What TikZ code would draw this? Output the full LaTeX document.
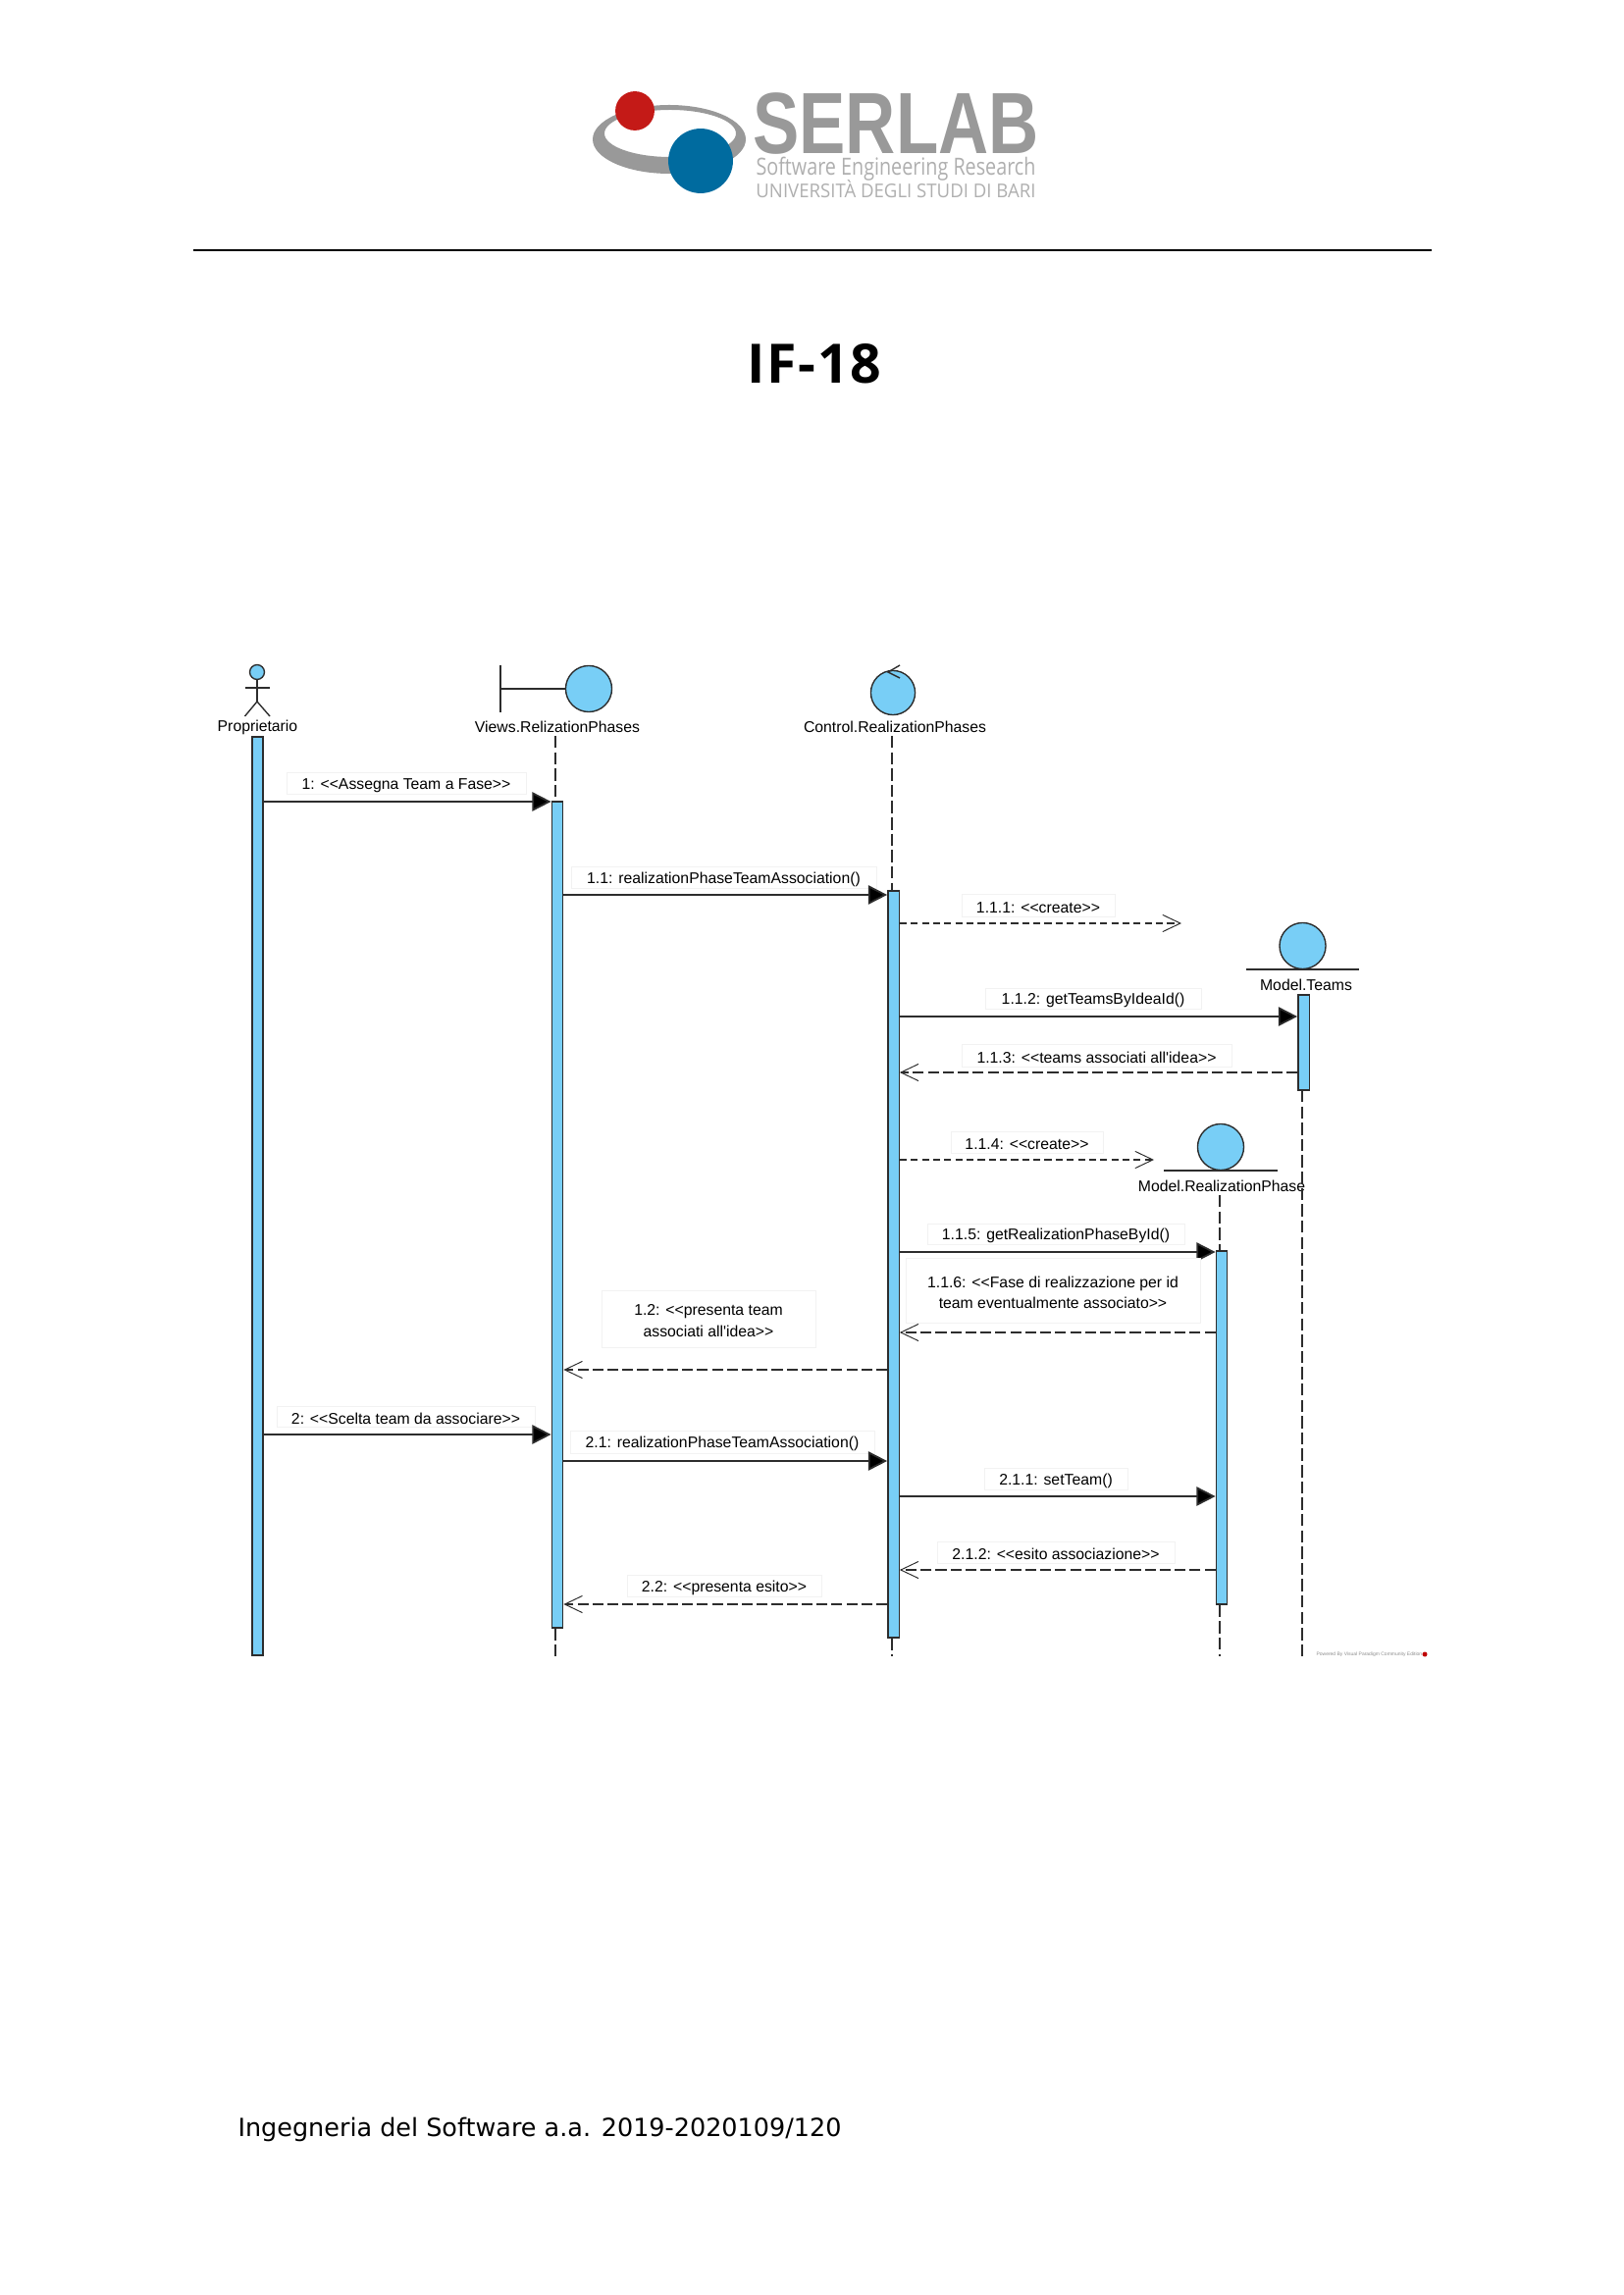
\documentclass[tikz,border=0pt]{standalone}
\usepackage{fontspec}
\usepackage{tikz}
\usetikzlibrary{arrows.meta}
\usetikzlibrary{fit}
\setmainfont{DejaVu Sans}
\newfontfamily\umlfont{Liberation Sans}
\newfontfamily\logofont{Open Sans}
\definecolor{barblue}{RGB}{120,206,246}
\definecolor{linedark}{RGB}{45,45,45}
\definecolor{logogray}{RGB}{153,153,153}
\definecolor{logothin}{RGB}{175,175,175}
\definecolor{logored}{RGB}{196,26,23}
\definecolor{logoblue}{RGB}{0,107,159}
\tikzset{
  activebar/.style={draw=linedark,fill=barblue,line width=0.5pt,inner sep=0pt,minimum width=4.1pt},
  objcircle/.style={circle,draw=linedark,fill=barblue,line width=0.5pt,inner sep=0pt,minimum size=17pt},
  lifelabel/.style={font=\umlfont\fontsize{5.7}{7}\selectfont,inner sep=0pt},
  msgbox/.style={draw=black!5,fill=white,line width=0.3pt,inner sep=0pt},
  msgtext/.style={align=center,inner sep=0pt,yshift=-0.8pt,font=\umlfont\fontsize{5.7}{7.8}\selectfont},
  lifeline/.style={draw=linedark,line width=0.6pt,dash pattern=on 4.5pt off 1.5pt},
  callmsg/.style={draw=linedark,line width=0.65pt,-{Triangle[length=7pt,width=7pt,fill=black]}},
  returnmsg/.style={draw=linedark,line width=0.55pt,dash pattern=on 4pt off 1.5pt,
    -{Straight Barb[length=6.5pt,width=6.2pt,line width=0.35pt]}},
  createmsg/.style={draw=linedark,line width=0.55pt,dash pattern=on 2.6pt off 1.5pt,
    -{Straight Barb[length=6.5pt,width=6.2pt,line width=0.35pt]}},
  stickline/.style={draw=linedark,line width=0.5pt},
}
\begin{document}
\begin{tikzpicture}[x=0.0127cm,y=-0.0127cm]
  \useasboundingbox (0,0) rectangle (1654,2339);
  % header
  \fill[logogray,even odd rule] (682,142) ellipse [x radius=78,y radius=35] (683,136) ellipse [x radius=67,y radius=24];
  \node[circle,fill=logored,inner sep=0pt,minimum size=14.4pt] (logoRed) at (647,113) {};
  \node[circle,fill=logoblue,inner sep=0pt,minimum size=23.8pt] (logoBlue) at (714,164) {};
  \node[text=logogray,inner sep=0pt] (logoName) at (913,126) {\scalebox{.8}[1]{\fontsize{32}{32}\selectfont\umlfont\bfseries SERLAB}};
  \node[text=logothin,inner sep=0pt] (logoLineA) at (913,172) {\scalebox{.82}[1]{\fontsize{8.7}{10}\selectfont\logofont Software Engineering Research}};
  \node[text=logothin,inner sep=0pt] (logoLineB) at (913,193) {\scalebox{.96}[1]{\fontsize{7}{10}\selectfont\logofont UNIVERSITÀ DEGLI STUDI DI BARI}};
  \coordinate (ruleL) at (197,255);
  \coordinate (ruleR) at (1459,255);
  \draw[line width=0.7pt] (ruleL) -- (ruleR);
  \node[inner sep=0pt] (title) at (830,371) {\fontsize{20}{24}\selectfont\logofont\bfseries\addfontfeature{LetterSpace=3}IF-18};
  \node[inner sep=0pt,anchor=base west] (footer) at (242,2177) {\fontsize{9.2}{12}\selectfont Ingegneria del Software a.a. 2019-2020109/120};
  % lifeline heads
  \node[circle,draw=linedark,fill=barblue,line width=0.5pt,inner sep=0pt,minimum size=5.4pt] (headP) at (262,685) {};
  \coordinate (hipP) at (262,715);
  \coordinate (armL) at (249.5,701);
  \coordinate (armR) at (275,701);
  \coordinate (footL) at (249.5,730);
  \coordinate (footR) at (275,730);
  \draw[stickline] (headP.south) -- (hipP);
  \draw[stickline] (armL) -- (armR);
  \draw[stickline] (footL) -- (hipP) -- (footR);
  \node[objcircle] (circV) at (600,702) {};
  \coordinate (bndTop) at (510,678);
  \coordinate (bndBot) at (510,726);
  \draw[stickline] (bndTop) -- (bndBot);
  \draw[stickline] (bndTop |- circV.west) -- (circV.west);
  \node[objcircle,minimum size=16.3pt] (circC) at (910,706) {};
  \coordinate (ctrlTip) at (905,685);
  \coordinate (ctrlUp) at (917,678);
  \coordinate (ctrlDown) at (917,691);
  \draw[stickline] (ctrlUp) -- (ctrlTip) -- (ctrlDown);
  \node[objcircle] (circT) at (1327.5,964) {};
  \node[objcircle] (circR) at (1244,1169) {};
  \coordinate (baseTL) at (1270,988);
  \coordinate (baseTR) at (1385,988);
  \coordinate (baseRL) at (1186,1193);
  \coordinate (baseRR) at (1302,1193);
  \draw[stickline] (baseTL) -- (baseTR);
  \draw[stickline] (baseRL) -- (baseRR);
  \node[lifelabel] (lblP) at (262.5,741) {Proprietario};
  \node[lifelabel] (lblV) at (568,741) {Views.RelizationPhases};
  \node[lifelabel] (lblC) at (912,741) {Control.RealizationPhases};
  \node[lifelabel] (lblT) at (1331,1004) {Model.Teams};
  \node[lifelabel] (lblR) at (1245,1209) {Model.RealizationPhase};
  % activation bars
  \node[activebar,fit={(262.5,751)(262.5,1687)}] (barP) {};
  \node[activebar,fit={(568,817)(568,1659)}] (barV) {};
  \node[activebar,fit={(910.5,908)(910.5,1669)}] (barC) {};
  \node[activebar,fit={(1328.5,1014)(1328.5,1111)}] (barT) {};
  \node[activebar,fit={(1245,1275)(1245,1635)}] (barR) {};
  % lifelines
  \coordinate (lifeV) at (566,750);
  \coordinate (lifeC) at (909,750);
  \coordinate (lifeT) at (1327,1111);
  \coordinate (lifeR) at (1243,1218);
  \coordinate (lifeEnd) at (0,1688);
  \draw[lifeline] (lifeV) -- (lifeV |- barV.north);
  \draw[lifeline] (lifeV |- barV.south) -- (lifeV |- lifeEnd);
  \draw[lifeline] (lifeC) -- (lifeC |- barC.north);
  \draw[lifeline] (lifeC |- barC.south) -- (lifeC |- lifeEnd);
  \draw[lifeline] (lifeT) -- (lifeT |- lifeEnd);
  \draw[lifeline] (lifeR) -- (lifeR |- barR.north);
  \draw[lifeline] (lifeR |- barR.south) -- (lifeR |- lifeEnd);
  % messages
  \node[msgbox,fit={(292,787)(536,809)},label={[msgtext]center:1: <<Assegna Team a Fase>>}] (msgA) {};
  \draw[callmsg] (barP.east |- 0,817) -- (barV.west |- 0,817);
  \node[msgbox,fit={(582,883)(893,905)},label={[msgtext]center:1.1: realizationPhaseTeamAssociation()}] (msgAA) {};
  \draw[callmsg] (barV.east |- 0,912) -- (barC.west |- 0,912);
  \node[msgbox,fit={(980,911)(1136,934)},label={[msgtext]center:1.1.1: <<create>>}] (msgAAA) {};
  \coordinate (createT) at (1204,941);
  \draw[createmsg] (barC.east |- createT) -- (createT);
  \node[msgbox,fit={(1004,1007)(1224,1028)},label={[msgtext]center:1.1.2: getTeamsByIdeaId()}] (msgAAB) {};
  \draw[callmsg] (barC.east |- 0,1036) -- (barT.west |- 0,1036);
  \node[msgbox,fit={(980,1064)(1255,1087)},label={[msgtext]center:1.1.3: <<teams associati all'idea>>}] (msgAAC) {};
  \draw[returnmsg] (barT.west |- 0,1093) -- (barC.east |- 0,1093);
  \node[msgbox,fit={(969,1153)(1124,1175)},label={[msgtext]center:1.1.4: <<create>>}] (msgAAD) {};
  \coordinate (createR) at (1176,1182);
  \draw[createmsg] (barC.east |- createR) -- (createR);
  \node[msgbox,fit={(945,1247)(1207,1268)},label={[msgtext]center:1.1.5: getRealizationPhaseById()}] (msgAAE) {};
  \draw[callmsg] (barC.east |- 0,1276) -- (barR.west |- 0,1276);
  \node[msgbox,fit={(923,1282)(1223,1348)},label={[msgtext]center:1.1.6: <<Fase di realizzazione per id\\team eventualmente associato>>}] (msgAAF) {};
  \draw[returnmsg] (barR.west |- 0,1358) -- (barC.east |- 0,1358);
  \node[msgbox,fit={(613,1315)(831,1373)},label={[msgtext]center:1.2: <<presenta team\\associati all'idea>>}] (msgAB) {};
  \draw[returnmsg] (barC.west |- 0,1396) -- (barV.east |- 0,1396);
  \node[msgbox,fit={(282,1433)(545,1454)},label={[msgtext]center:2: <<Scelta team da associare>>}] (msgB) {};
  \draw[callmsg] (barP.east |- 0,1462) -- (barV.west |- 0,1462);
  \node[msgbox,fit={(581,1458)(891,1481)},label={[msgtext]center:2.1: realizationPhaseTeamAssociation()}] (msgBA) {};
  \draw[callmsg] (barV.east |- 0,1489) -- (barC.west |- 0,1489);
  \node[msgbox,fit={(1003,1496)(1149,1518)},label={[msgtext]center:2.1.1: setTeam()}] (msgBAA) {};
  \draw[callmsg] (barC.east |- 0,1525) -- (barR.west |- 0,1525);
  \node[msgbox,fit={(955,1571)(1197,1593)},label={[msgtext]center:2.1.2: <<esito associazione>>}] (msgBAB) {};
  \draw[returnmsg] (barR.west |- 0,1600) -- (barC.east |- 0,1600);
  \node[msgbox,fit={(639,1605)(837,1627)},label={[msgtext]center:2.2: <<presenta esito>>}] (msgBB) {};
  \draw[returnmsg] (barC.west |- 0,1635) -- (barV.east |- 0,1635);
  % watermark
  \node[inner sep=0pt,text=black!45,anchor=west] (powered) at (1341,1686) {\umlfont\fontsize{1.8}{2}\selectfont Powered By Visual Paradigm Community Edition};
  \node[circle,fill=red!75!black,inner sep=0pt,minimum size=1.8pt] (poweredIcon) at (1452,1686) {};
\end{tikzpicture}
\end{document}
